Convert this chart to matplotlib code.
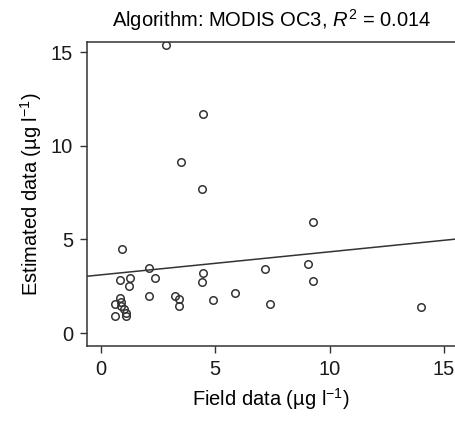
import matplotlib
matplotlib.use('Agg')
import matplotlib.pyplot as plt
import numpy as np

plt.rcParams['font.family'] = ['Liberation Sans', 'DejaVu Sans']
plt.rcParams['mathtext.fontset'] = 'custom'
plt.rcParams['mathtext.rm'] = 'Liberation Sans'
plt.rcParams['mathtext.it'] = 'Liberation Sans:italic'

# field vs estimated chlorophyll
field = [2.86, 4.45, 3.52, 4.40, 9.29, 0.93, 2.12, 7.18, 9.06, 4.45, 4.40,
         9.29, 0.83, 1.29, 1.21, 2.36, 2.12, 3.23, 3.40, 3.40, 4.91, 5.86,
         7.38, 14.0, 0.61, 0.61, 0.83, 0.87, 0.90, 1.02, 1.08, 1.12]
estimated = [15.4, 11.7, 9.15, 7.67, 5.94, 4.47, 3.50, 3.40, 3.68, 3.19, 2.74,
             2.79, 2.86, 2.94, 2.53, 2.94, 1.98, 1.98, 1.83, 1.44, 1.78, 2.15,
             1.58, 1.39, 1.53, 0.91, 1.85, 1.67, 1.46, 1.28, 1.05, 0.91]
fit_intercept = 3.11
fit_slope = 0.123
ticks = [0, 5, 10, 15]

dark = '#333333'
fs = 14.5

fig = plt.figure(figsize=(4.56, 4.21), dpi=100)
ax = fig.add_axes([0.191, 0.178, 0.808, 0.722])

ax.plot(field, estimated, 'o', mfc='none', mec=dark, ms=5.4, mew=1.1)

xl = np.array([-0.6, 15.5])
ax.plot(xl, fit_intercept + fit_slope * xl, color=dark, lw=1.1)

ax.set_xlim(-0.6, 15.5)
ax.set_ylim(-0.69, 15.53)
ax.set_xticks(ticks)
ax.set_yticks(ticks)
ax.tick_params(direction='out', length=5, width=1, color=dark, pad=5,
               labelsize=fs, labelcolor='#1a1a1a', top=False, right=False)
for s in ax.spines.values():
    s.set_color(dark)
    s.set_linewidth(1.1)

ax.set_title('Algorithm: MODIS OC3, $R^2$ = 0.014', fontsize=fs, pad=11)
ax.set_xlabel('Field data (µg l$^{-1}$)', fontsize=fs, labelpad=5)
ax.set_ylabel('Estimated data (µg l$^{-1}$)', fontsize=fs, labelpad=5)

fig.savefig('out.png', dpi=100)
